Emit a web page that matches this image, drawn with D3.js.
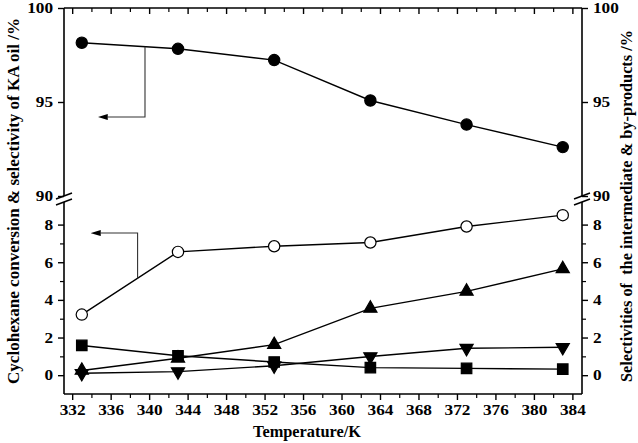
<!DOCTYPE html>
<html>
<head>
<meta charset="utf-8">
<script src="https://cdn.jsdelivr.net/npm/d3@7"></script>
<style>
  body { margin: 0; background: #fff; }
  text { font-family: "Liberation Serif", "Times New Roman", serif; font-weight: bold; }
</style>
</head>
<body>
<div id="main"></div>
<script>
// data
const temps = [333, 343, 353, 363, 373, 383];
const kaOil = [98.15, 97.83, 97.23, 95.08, 93.8, 92.6];     // filled circles, upper panel
const conversion = [3.22, 6.55, 6.85, 7.05, 7.9, 8.5];      // open circles
const upTri = [0.25, 0.9, 1.62, 3.55, 4.45, 5.65];          // up triangles
const downTri = [0.1, 0.19, 0.5, 0.99, 1.43, 1.48];         // down triangles
const squares = [1.58, 1.03, 0.7, 0.4, 0.36, 0.32];         // squares

const xTicks = d3.range(332, 385, 4);
const lowTicks = [0, 2, 4, 6, 8];
const highTicks = [90, 95, 100];

const width = 638, height = 443;
const pLeft = 64, pRight = 582, pTop = 8, pBottom = 394;
const breakHi = 196, breakLo = 202;
const stretch = 1.15;

const svg = d3.select('#main').append('svg')
  .attr('width', width).attr('height', height);

const x = d3.scaleLinear().domain([331.15, 385]).range([pLeft, pRight]);
const yLow = d3.scaleLinear().domain([-1, 9.2]).range([pBottom, breakLo]);
const yHigh = d3.scaleLinear().domain([90, 100]).range([breakHi, pTop]);

// wide bold serif tick labels like the original
function styleLabels(g) {
  g.attr('font-family', null).attr('font-size', null);
  g.selectAll('text')
    .style('font-family', '"Liberation Serif", serif')
    .style('font-weight', 'bold')
    .style('font-size', '15px').attr('fill', '#000')
    .attr('x', function() { return (+d3.select(this).attr('x') || 0) / stretch; })
    .attr('transform', 'scale(' + stretch + ',1)');
}

// bottom axis (outward ticks)
const xAxis = d3.axisBottom(x).tickValues(xTicks).tickSize(6).tickPadding(4).tickFormat(d3.format('d'));
const gx = svg.append('g').attr('transform', 'translate(0,' + pBottom + ')').call(xAxis);
gx.select('.domain').remove();
gx.selectAll('line').attr('stroke-width', 1.4);
styleLabels(gx);
svg.append('g').attr('transform', 'translate(0,' + pBottom + ')')
  .call(d3.axisBottom(x).tickValues(d3.range(334, 385, 4)).tickSize(4).tickFormat(''))
  .call(g => g.select('.domain').remove())
  .selectAll('line').attr('stroke-width', 1.2);

// top mirror ticks (inward)
svg.append('g').attr('transform', 'translate(0,' + pTop + ')')
  .call(d3.axisBottom(x).tickValues(xTicks).tickSize(6).tickFormat(''))
  .call(g => g.select('.domain').remove())
  .selectAll('line').attr('stroke-width', 1.4);
svg.append('g').attr('transform', 'translate(0,' + pTop + ')')
  .call(d3.axisBottom(x).tickValues(d3.range(334, 385, 4)).tickSize(4).tickFormat(''))
  .call(g => g.select('.domain').remove())
  .selectAll('line').attr('stroke-width', 1.2);

// left and right y axes, both panels
function yAxes(gen, xpos) {
  [[yLow, lowTicks, [1, 3, 5, 7]], [yHigh, highTicks, []]].forEach(([sc, major, minor]) => {
    const g = svg.append('g').attr('transform', 'translate(' + xpos + ',0)')
      .call(gen(sc).tickValues(major).tickSize(6).tickPadding(5));
    g.select('.domain').remove();
    g.selectAll('line').attr('stroke-width', 1.4);
    styleLabels(g);
    if (minor.length) {
      svg.append('g').attr('transform', 'translate(' + xpos + ',0)')
        .call(gen(sc).tickValues(minor).tickSize(4).tickFormat(''))
        .call(g2 => g2.select('.domain').remove())
        .selectAll('line').attr('stroke-width', 1.2);
    }
  });
}
yAxes(d3.axisLeft, pLeft);
yAxes(d3.axisRight, pRight);

// frame lines with the break
const frame = svg.append('g').attr('stroke', '#000').attr('stroke-width', 1.6).attr('fill', 'none');
frame.append('line').attr('x1', pLeft).attr('x2', pRight).attr('y1', pTop).attr('y2', pTop);
frame.append('line').attr('x1', pLeft).attr('x2', pRight).attr('y1', pBottom).attr('y2', pBottom);
[pLeft, pRight].forEach(xp => {
  frame.append('line').attr('x1', xp).attr('x2', xp).attr('y1', pTop).attr('y2', breakHi);
  frame.append('line').attr('x1', xp).attr('x2', xp).attr('y1', breakLo).attr('y2', pBottom);
  [breakHi, breakLo].forEach(yb => {
    frame.append('line').attr('x1', xp - 8).attr('y1', yb + 3).attr('x2', xp + 8).attr('y2', yb - 3);
  });
});

// series
const series = [
  { vals: kaOil, y: yHigh, sym: d3.symbolCircle, size: 100, fill: '#000', rot: 0 },
  { vals: conversion, y: yLow, sym: d3.symbolCircle, size: 100, fill: '#fff', rot: 0 },
  { vals: upTri, y: yLow, sym: d3.symbolTriangle, size: 75, fill: '#000', rot: 0 },
  { vals: downTri, y: yLow, sym: d3.symbolTriangle, size: 75, fill: '#000', rot: 180 },
  { vals: squares, y: yLow, sym: d3.symbolSquare, size: 110, fill: '#000', rot: 0 }
];
const line = d3.line();
series.forEach(s => {
  const pts = temps.map((t, i) => [x(t), s.y(s.vals[i])]);
  svg.append('path').attr('d', line(pts)).attr('fill', 'none')
    .attr('stroke', '#000').attr('stroke-width', 1.4);
  svg.selectAll(null).data(pts).enter().append('path')
    .attr('d', d3.symbol().type(s.sym).size(s.size))
    .attr('transform', d => 'translate(' + d[0] + ',' + d[1] + ') rotate(' + s.rot + ')')
    .attr('fill', s.fill).attr('stroke', '#000').attr('stroke-width', 1.2);
});

// pointer arrows to the left axis
svg.append('defs').append('marker')
  .attr('id', 'head').attr('viewBox', '0 0 10 6').attr('refX', 0).attr('refY', 3)
  .attr('markerWidth', 10).attr('markerHeight', 6).attr('markerUnits', 'userSpaceOnUse')
  .attr('orient', 'auto')
  .append('path').attr('d', 'M10,3 L0,0 L0,6 Z').attr('fill', '#000');

function arrow(tx, yScale, onLine, yTo, txTip) {
  const px = x(tx), py = yScale(onLine), pt = yScale(yTo);
  svg.append('path')
    .attr('d', 'M' + px + ',' + py + ' L' + px + ',' + pt + ' L' + x(txTip) + ',' + pt)
    .attr('fill', 'none').attr('stroke', '#333').attr('stroke-width', 1.1)
    .attr('marker-end', 'url(#head)');
}
arrow(339.57, yHigh, 97.94, 94.2, 335.7);
arrow(338.8, yLow, 5.15, 7.55, 334.97);

// axis titles
svg.append('text').attr('transform', 'translate(19,201) rotate(-90)')
  .attr('text-anchor', 'middle').style('font-size', '16px')
  .attr('textLength', 366).attr('lengthAdjust', 'spacingAndGlyphs')
  .text('Cyclohexane conversion & selectivity of KA oil /%');
svg.append('text').attr('transform', 'translate(632,206) rotate(-90)')
  .attr('text-anchor', 'middle').style('font-size', '16px').attr('xml:space', 'preserve')
  .attr('textLength', 352).attr('lengthAdjust', 'spacingAndGlyphs')
  .text('Selectivities of  the intermediate & by-products /%');
svg.append('text').attr('x', 307).attr('y', 437)
  .attr('text-anchor', 'middle').style('font-size', '16px')
  .attr('textLength', 108).attr('lengthAdjust', 'spacingAndGlyphs')
  .text('Temperature/K');
</script>
</body>
</html>
